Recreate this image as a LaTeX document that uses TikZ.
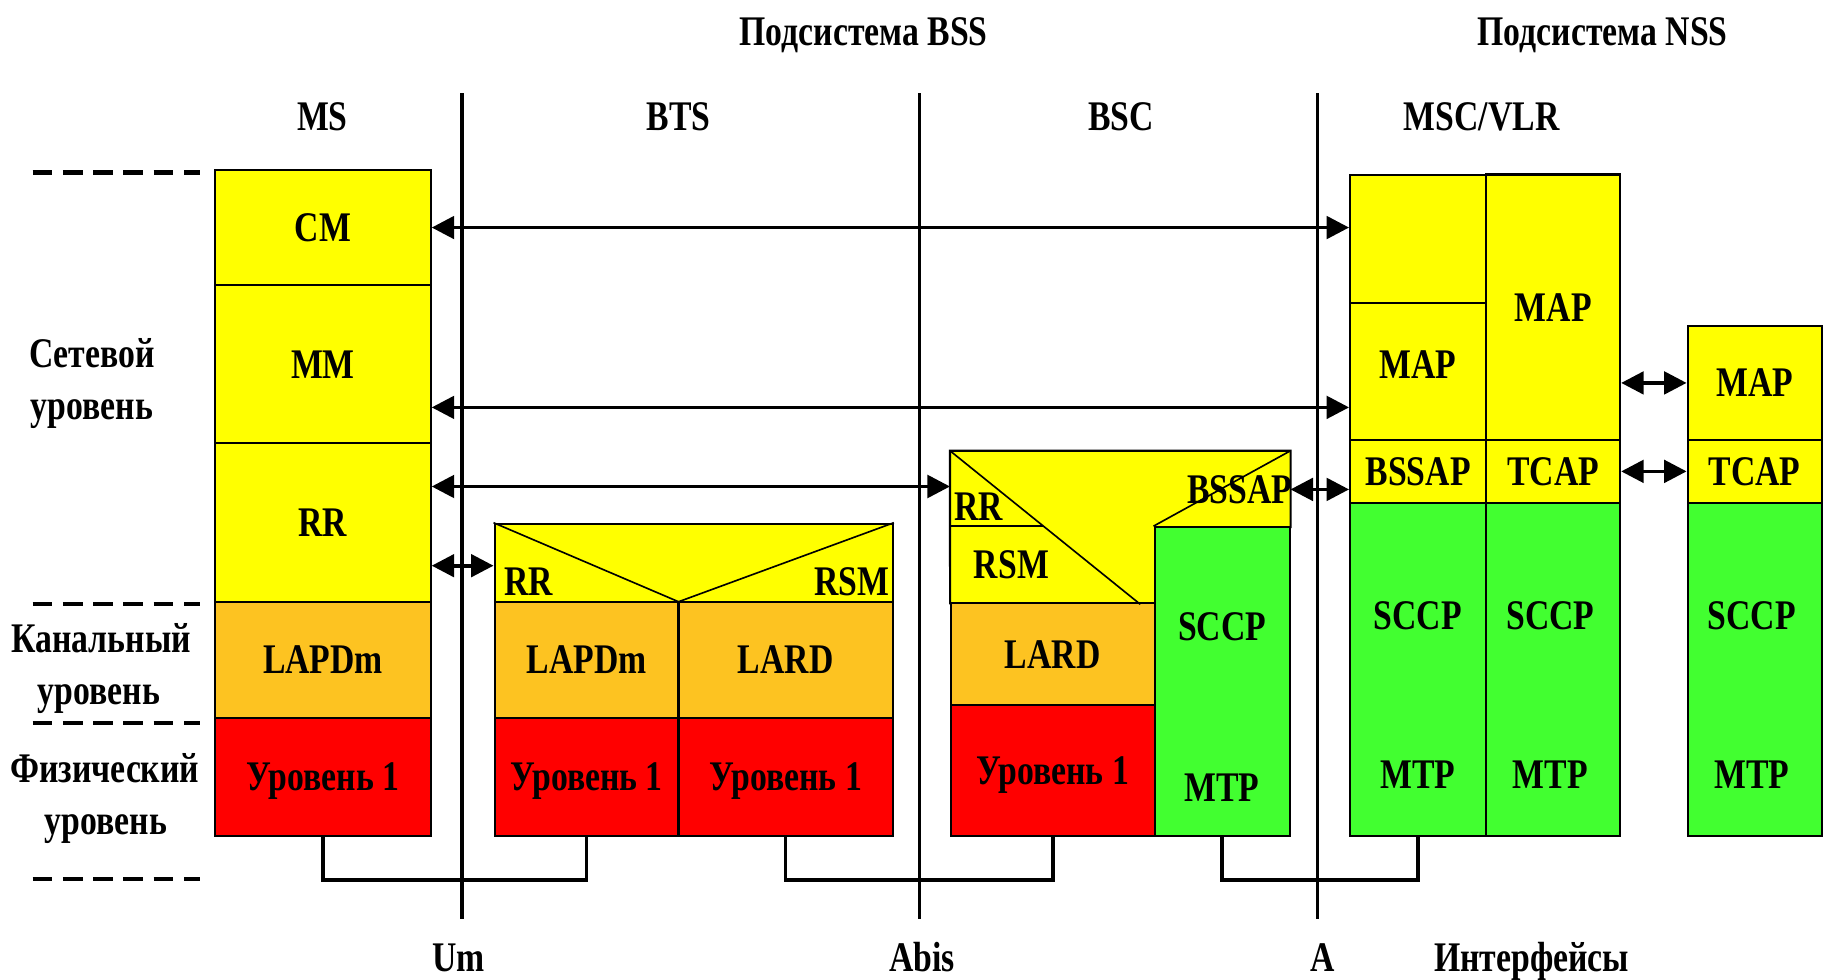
\documentclass[tikz,border=0pt]{standalone}
\usepackage{fontspec}
\setmainfont{Liberation Serif}[FakeStretch=0.8]
\usetikzlibrary{arrows.meta}
\definecolor{yel}{RGB}{255,255,0}
\definecolor{ora}{RGB}{253,195,33}
\definecolor{rd}{RGB}{255,0,0}
\definecolor{grn}{RGB}{66,255,48}
\newcommand{\diagfont}{\fontsize{10.3}{12}\selectfont\bfseries}

\begin{document}
\begin{tikzpicture}[x=0.01cm, y=-0.01cm,
    cell/.style={draw, line width=0.5pt, inner sep=0pt, text depth=0pt, font=\diagfont},
    txt/.style={inner sep=0pt, text depth=0pt, font=\diagfont},
    dbl/.style={{Triangle[length=5.5pt,width=5.5pt]}-{Triangle[length=5.5pt,width=5.5pt]}, line width=0.9pt},
    iface/.style={line width=0.9pt},
    lvl/.style={dash pattern=on 4.8pt off 2.6pt, line width=1.1pt},
    link/.style={line width=0.9pt}]
    \useasboundingbox (0,0) rectangle (1568,842);

    % Headers
    \node[txt, anchor=base] (bss) at (742,39) {Подсистема BSS};
    \node[txt, anchor=base] (nss) at (1377,39) {Подсистема NSS};
    \node[txt, anchor=base] (ms) at (277,112) {MS};
    \node[txt, anchor=base] (bts) at (583,112) {BTS};
    \node[txt, anchor=base] (bsc) at (963,112) {BSC};
    \node[txt, anchor=base] (msc) at (1273,112) {MSC/VLR};

    % Interfaces
    \coordinate (umT) at (397,80);   \coordinate (umB) at (397,790);
    \coordinate (abisT) at (790,80); \coordinate (abisB) at (790,790);
    \coordinate (aT) at (1132,80);   \coordinate (aB) at (1132,790);
    \draw[iface] (umT) -- (umB);
    \draw[iface] (abisT) -- (abisB);
    \draw[iface] (aT) -- (aB);
    \node[txt, anchor=base] (um) at (394,835) {Um};
    \node[txt, anchor=base] (abis) at (792,835) {Abis};
    \node[txt, anchor=base] (a) at (1136,835) {A};
    \node[txt, anchor=base] (intf) at (1316,835) {Интерфейсы};

    % Levels
    \draw[lvl] (28,148) -- (172,148);
    \draw[lvl] (28,519) -- (172,519);
    \draw[lvl] (28,621) -- (172,621);
    \draw[lvl] (28,755) -- (172,755);
    \node[txt, anchor=base] (netA) at (79,316) {Сетевой};
    \node[txt, anchor=base] (netB) at (79,360) {уровень};
    \node[txt, anchor=base] (chA) at (87,561) {Канальный};
    \node[txt, anchor=base] (chB) at (85,605) {уровень};
    \node[txt, anchor=base] (phA) at (90,672) {Физический};
    \node[txt, anchor=base] (phB) at (91,717) {уровень};

    % MS
    \node[cell, fill=yel, minimum width=1.85cm, minimum height=0.99cm] (cm) at (277.5,195.5) {CM};
    \node[cell, fill=yel, minimum width=1.85cm, minimum height=1.36cm] (mm) at (277.5,313) {MM};
    \node[cell, fill=yel, minimum width=1.85cm, minimum height=1.36cm] (rr) at (277.5,449) {RR};
    \node[cell, fill=ora, minimum width=1.85cm, minimum height=1.00cm] (lapdA) at (277.5,567) {LAPDm};
    \node[cell, fill=rd, minimum width=1.85cm, minimum height=1.01cm] (phyA) at (277.5,667.5) {Уровень 1};

    % BTS
    \node[cell, fill=yel, minimum width=3.42cm, minimum height=0.67cm] (btsTop) at (596,483.5) {};
    \draw[line width=0.4pt] (btsTop.north west) -- (583,517) -- (btsTop.north east);
    \node[txt] (rrB) at (454,500) {RR};
    \node[txt] (rsmB) at (732,500) {RSM};
    \node[cell, fill=ora, minimum width=1.58cm, minimum height=1.00cm] (lapdB) at (504,567) {LAPDm};
    \node[cell, fill=ora, minimum width=1.84cm, minimum height=1.00cm] (lardB) at (675,567) {LARD};
    \node[cell, fill=rd, minimum width=1.58cm, minimum height=1.01cm] (phyB) at (504,667.5) {Уровень 1};
    \node[cell, fill=rd, minimum width=1.84cm, minimum height=1.01cm] (phyC) at (675,667.5) {Уровень 1};

    % BSC
    \node[fill=yel, inner sep=0pt, minimum width=2.91cm, minimum height=0.65cm] (bscTop) at (962.5,420.5) {};
    \node[fill=yel, inner sep=0pt, minimum width=1.75cm, minimum height=0.66cm] (bscMid) at (904.5,485.5) {};
    \node[cell, fill=ora, minimum width=1.75cm, minimum height=0.88cm] (lardC) at (904.5,562) {LARD};
    \node[cell, fill=rd, minimum width=1.75cm, minimum height=1.12cm] (phyD) at (904.5,662) {Уровень 1};
    \node[cell, fill=grn, minimum width=1.16cm, minimum height=2.65cm] (grnD) at (1050,585.5) {};
    \draw[line width=0.5pt] (bscTop.south east) -- (bscTop.north east) -- (bscTop.north west) -- (bscMid.south west);
    \draw[line width=0.4pt] (bscTop.north west) -- ([xshift=-0.13cm]bscMid.south east);
    \draw[line width=0.4pt] (bscMid.north west) -- ([xshift=0.8cm]bscMid.north west);
    \draw[line width=0.4pt] (grnD.north west) -- (bscTop.north east);
    \node[txt] (rrC) at (841,435) {RR};
    \node[txt] (rsmC) at (869,485) {RSM};
    \node[txt] (bssapC) at (1065,421) {BSSAP};
    \node[txt] (sccpD) at (1050,538) {SCCP};
    \node[txt] (mtpD) at (1050,677) {MTP};

    % MSC/VLR
    \node[cell, fill=yel, minimum width=1.17cm, minimum height=1.10cm] (mscTop) at (1218.5,205) {};
    \node[cell, fill=yel, minimum width=1.17cm, minimum height=1.18cm] (mapA) at (1218.5,319) {};
    \node[cell, fill=yel, minimum width=1.15cm, minimum height=2.28cm] (mapB) at (1334.5,264) {MAP};
    \node[cell, fill=yel, minimum width=1.17cm, minimum height=0.54cm] (bssapD) at (1218.5,405) {BSSAP};
    \node[cell, fill=yel, minimum width=1.15cm, minimum height=0.54cm] (tcapA) at (1334.5,405) {TCAP};
    \node[cell, fill=grn, minimum width=1.17cm, minimum height=2.86cm] (grnA) at (1218.5,575) {};
    \node[cell, fill=grn, minimum width=1.15cm, minimum height=2.86cm] (grnB) at (1334.5,575) {};
    \node[txt] (mapAl) at (1218,313) {MAP};
    \node[txt] (sccpA) at (1218,529) {SCCP};
    \node[txt] (mtpA) at (1218,666) {MTP};
    \node[txt] (sccpB) at (1332,529) {SCCP};
    \node[txt] (mtpB) at (1332,666) {MTP};

    % HLR
    \node[cell, fill=yel, minimum width=1.15cm, minimum height=0.98cm] (mapC) at (1507.5,329) {MAP};
    \node[cell, fill=yel, minimum width=1.15cm, minimum height=0.54cm] (tcapB) at (1507.5,405) {TCAP};
    \node[cell, fill=grn, minimum width=1.15cm, minimum height=2.86cm] (grnC) at (1507.5,575) {};
    \node[txt] (sccpC) at (1505,529) {SCCP};
    \node[txt] (mtpC) at (1505,666) {MTP};

    % Peer arrows
    \draw[dbl] (cm.east) -- (cm.east -| mscTop.west);
    \draw[dbl] ([yshift=-0.37cm]mm.east) -- ([yshift=-0.37cm]mm.east -| mapA.west);
    \draw[dbl] ([yshift=0.31cm]rr.east) -- ([yshift=0.31cm]rr.east -| bscTop.west);
    \draw[dbl] ([yshift=-0.37cm]rr.east) -- ([yshift=-0.37cm]rr.east -| btsTop.west);
    \draw[dbl] (bscTop.east) -- (bscTop.east -| bssapD.west);
    \draw[dbl] (mapC.west -| mapB.east) -- (mapC.west);
    \draw[dbl] (tcapA.east) -- (tcapB.west);

    % Physical links
    \draw[link] (phyA.south) -- ++(0,37) -| (phyB.south);
    \draw[link] (phyC.south) -- ++(0,37) -| (phyD.south);
    \draw[link] (grnD.south) -- ++(0,37) -| (grnA.south);
\end{tikzpicture}
\end{document}
